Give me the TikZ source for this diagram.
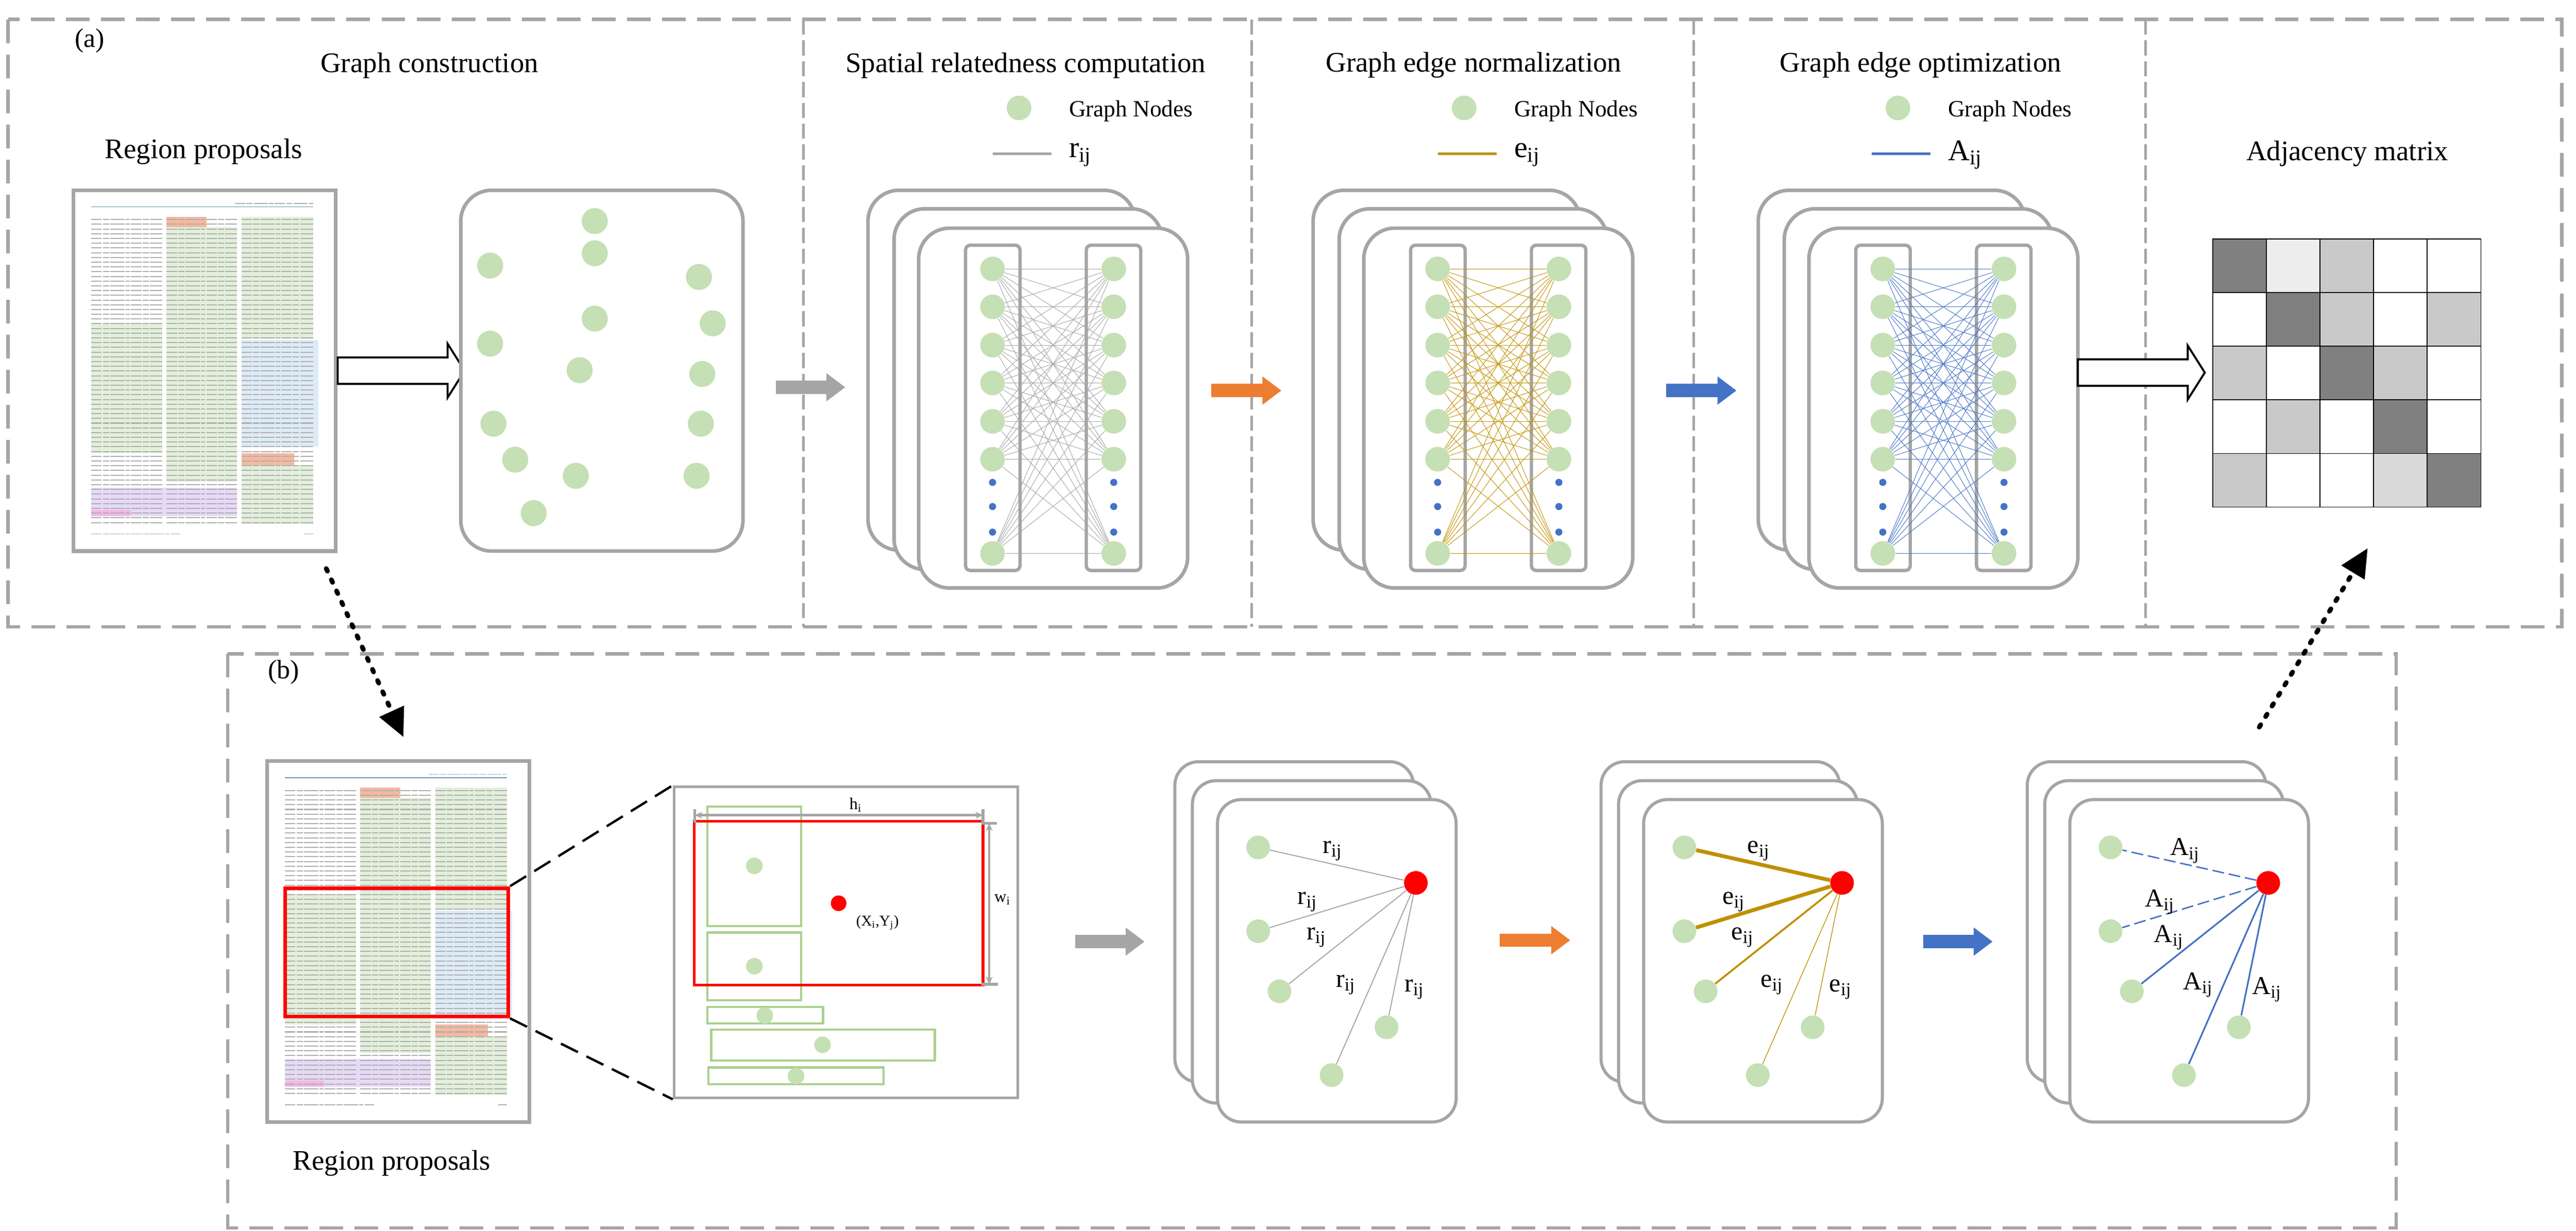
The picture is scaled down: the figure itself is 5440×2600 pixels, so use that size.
\documentclass[tikz,border=0pt]{standalone}
\usepackage{fontspec}
\setmainfont{Liberation Serif}
\usepackage{tikz}
\usetikzlibrary{calc,arrows.meta,positioning}

\definecolor{nodegreen}{HTML}{C5E0B4}
\definecolor{boxgreen}{HTML}{A9D18E}
\definecolor{framegray}{HTML}{A5A5A5}
\definecolor{arrorange}{HTML}{ED7D31}
\definecolor{arrblue}{HTML}{4472C4}
\definecolor{edgegold}{HTML}{BF9000}
\definecolor{celldark}{HTML}{808080}
\definecolor{cellmid}{HTML}{C9C9C9}
\definecolor{celllight}{HTML}{EDEDED}
\definecolor{cellpale}{HTML}{D9D9D9}
\definecolor{hlgreen}{HTML}{E2EFDA}
\definecolor{hlblue}{HTML}{DDEBF7}
\definecolor{hlred}{HTML}{F4B9A0}
\definecolor{hlpurple}{HTML}{E6DAF7}
\definecolor{hlpink}{HTML}{F2B8E6}
\definecolor{rulecol}{HTML}{6A9AB0}

\tikzset{
  panelline/.style={draw=framegray, line width=2pt, dash pattern=on 0.5cm off 0.24cm},
  sepline/.style={draw=framegray, line width=1.6pt, dash pattern=on 0.32cm off 0.12cm},
  ttl/.style={font=\fontsize{17}{20}\selectfont, inner sep=0},
  tagl/.style={font=\fontsize{16}{19}\selectfont, inner sep=0},
  legtext/.style={font=\fontsize{14}{17}\selectfont, anchor=west, inner sep=0},
  legsym/.style={font=\fontsize{18}{21}\selectfont, anchor=west, inner sep=0},
  elabel/.style={font=\fontsize{15.5}{18}\selectfont, inner sep=0},
  smalllab/.style={font=\fontsize{10}{12}\selectfont, inner sep=0},
  gnode/.style={circle, fill=nodegreen, inner sep=0, minimum size=0.52cm},
  rnode/.style={circle, fill=red, inner sep=0, minimum size=0.5cm},
  page/.style={draw=framegray, line width=0.08cm, fill=white, inner sep=0,
    minimum width=5.54cm, minimum height=7.62cm},
  textline/.style={black!32, line width=0.022cm,
    dash pattern=on 0.22cm off 0.025cm on 0.13cm off 0.025cm on 0.3cm off 0.025cm on 0.09cm off 0.025cm},
  card/.style={draw=framegray, line width=0.075cm, fill=white, rounded corners=0.65cm},
  cardb/.style={draw=framegray, line width=0.065cm, fill=white, rounded corners=0.5cm},
  colbox/.style={draw=framegray, line width=0.07cm, rounded corners=0.1cm},
  hollow/.style={draw=black, line width=1.2pt, fill=white},
  flow/.style={line width=0.28cm, -{Triangle[length=0.4cm,width=0.57cm]}},
  jump/.style={line width=0.1cm, line cap=round, dash pattern=on 0.06cm off 0.2cm,
    -{Triangle[length=0.6cm,width=0.55cm]}},
  zoomline/.style={black, line width=1.4pt, dash pattern=on 0.4cm off 0.2cm},
  gbox/.style={draw=boxgreen, line width=0.05cm},
  dimarrow/.style={framegray, line width=0.05cm,
    {Stealth[length=0.16cm,width=0.14cm]}-{Stealth[length=0.16cm,width=0.14cm]}},
  dimtick/.style={framegray, line width=0.06cm},
  redge/.style={framegray, line width=0.6pt},
  ethick/.style={edgegold, line width=0.08cm},
  emid/.style={edgegold, line width=0.04cm},
  ethin/.style={edgegold, line width=0.015cm},
  adash/.style={arrblue, line width=0.03cm, dash pattern=on 0.25cm off 0.1cm},
  aline/.style={arrblue, line width=0.035cm},
}

% a page of the paper, drawn from its top left corner
\newcommand\docpage[1]{%
  \begin{scope}[shift={#1}]
    \fill[hlgreen] (42,285) rectangle (192,560);
    \fill[hlgreen] (201,82) rectangle (350,620);
    \fill[hlred] (201,60) rectangle (285,82);
    \fill[hlgreen] (359,60) rectangle (511,318);
    \fill[hlblue] (359,320) rectangle (522,545);
    \fill[hlred] (359,560) rectangle (470,585);
    \fill[hlgreen] (359,585) rectangle (511,709);
    \fill[hlpurple] (42,633) rectangle (350,692);
    \fill[hlpink] (42,679) rectangle (125,692);
    \draw[rulecol, line width=0.5pt] (42,39) -- (511,39);
    \draw[textline, line width=0.4pt] (345,32) -- (511,32);
    \foreach \y in {66,76,...,706} {
      \draw[textline] (42,\y) -- (192,\y);
      \draw[textline] (201,\y) -- (350,\y);
      \draw[textline] (359,\y) -- (511,\y);
    }
    \draw[textline, line width=0.4pt] (42,730) -- (230,730);
    \draw[textline, line width=0.4pt] (492,730) -- (511,730);
  \end{scope}}

\newcommand\hollowarrow[1]{%
  \draw[hollow] ($#1+(0,-28)$) -- ++(232,0) -- ++(0,-29) -- ++(36,57)
    -- ++(-36,57) -- ++(0,-29) -- ++(-232,0) -- cycle;}

\begin{document}
\begin{tikzpicture}[x=0.01cm, y=-0.01cm]
\useasboundingbox (0,0) rectangle (5440,2600);
\fill[white] (0,0) rectangle (5440,2600);

% ---------------- (a) ----------------
\draw[panelline] (17,41) rectangle (5410,1324);
\foreach \x in {1697,2643,3577,4531}
  \draw[sepline] (\x,41) -- (\x,1324);
\node[tagl] (taga) at (189,86) {(a)};

% graph construction
\node[ttl] (tconst) at (907,138) {Graph construction};
\node[ttl] (tregiona) at (430,320) {Region proposals};
\node[page] (doca) at (432,783) {};
\docpage{(doca.north west)}
\hollowarrow{(doca.east)}
\draw[card] (973,402) rectangle (1569,1164);
\foreach \x/\y [count=\n] in {1256/467,1256/535,1035/561,1476/585,1256/673,1505/683,
    1035/726,1224/782,1483/790,1042/895,1480/895,1088/971,1216/1005,1471/1005,1127/1084}
  \node[gnode, minimum size=0.55cm] (c\n) at (\x,\y) {};

% flow arrows between the stages
\coordinate (ga1) at (1638,818);  \coordinate (ga2) at (1785,818);
\coordinate (oa1) at (2558,825);  \coordinate (oa2) at (2706,825);
\coordinate (ba1) at (3518,825);  \coordinate (ba2) at (3667,825);
\draw[flow, framegray] (ga1) -- (ga2);
\draw[flow, arrorange] (oa1) -- (oa2);
\draw[flow, arrblue] (ba1) -- (ba2);

% the three bipartite stages
\foreach \k/\ecol/\sym/\ttltext/\tx/\dx in {0/framegray/r/Spatial relatedness computation/0/0,
    1/edgegold/e/Graph edge normalization/6/0, 2/arrblue/A/Graph edge optimization/10/-24} {
  \begin{scope}[shift={(\k*940,0)}]
    \node[ttl] (ttl\k) at (2166+\tx,138) {\ttltext};
    \node[gnode] (ldot\k) at (2152+\dx,228) {};
    \node[legtext] (lnodes\k) at (2257+\dx,235) {Graph Nodes};
    \coordinate (lla\k) at (2097+\dx,325);
    \coordinate (llb\k) at (2221+\dx,325);
    \draw[\ecol, line width=0.05cm] (lla\k) -- (llb\k);
    \node[legsym] (lsym\k) at (2257+\dx,327) {\sym\textsubscript{ij}};
    \draw[card] (1833,402) rectangle (2397,1162);
    \draw[card] (1888,441) rectangle (2454,1203);
    \draw[card] (1940,482) rectangle (2508,1242);
    \draw[colbox] (2039,518) rectangle (2154,1205);
    \draw[colbox] (2294,518) rectangle (2409,1205);
    \foreach \i/\y in {1/568,2/648,3/729,4/809,5/890,6/970,7/1169} {
      \node[gnode] (l\k\i) at (2096,\y) {};
      \node[gnode] (r\k\i) at (2352,\y) {};
    }
    \foreach \y in {1019,1070,1124} {
      \fill[arrblue] (2096,\y) circle (0.075cm);
      \fill[arrblue] (2352,\y) circle (0.075cm);
    }
    \foreach \i in {1,...,7}
      \foreach \j in {1,...,7}
        \draw[\ecol, line width=0.3pt] (l\k\i) -- (r\k\j);
  \end{scope}
}

% adjacency matrix
\hollowarrow{(4388,787)}
\node[ttl] (tadj) at (4957,325) {Adjacency matrix};
\foreach \row [count=\i] in {{celldark,celllight,cellmid,white,white},
    {white,celldark,cellmid,white,cellmid},{cellmid,white,celldark,cellmid,white},
    {white,cellmid,white,celldark,white},{cellmid,white,white,cellpale,celldark}}
  \foreach \cc [count=\j] in \row
    \draw[black, line width=0.5pt, fill=\cc]
      ({4673+113.2*(\j-1)},{505+113.2*(\i-1)}) rectangle ++(113.2,113.2);

% ---------------- (b) ----------------
\draw[panelline] (481,1381) rectangle (5060,2594);
\node[tagl] (tagb) at (599,1420) {(b)};
\node[ttl] (tregionb) at (827,2457) {Region proposals};
\node[page] (docb) at (841,1989) {};
\docpage{(docb.north west)}
\node[draw=red, line width=0.08cm, inner sep=0, minimum width=4.71cm,
  minimum height=2.71cm] (roi) at (837.5,2011.5) {};

% dotted jumps between (a) and (b)
\coordinate (jA1) at (689,1201);  \coordinate (jA2) at (852,1557);
\coordinate (jB1) at (4771,1536); \coordinate (jB2) at (5000,1158);
\draw[jump] (jA1) -- (jA2);
\draw[jump] (jB1) -- (jB2);

% zoomed region
\node[draw=framegray, line width=0.06cm, inner sep=0, minimum width=7.25cm,
  minimum height=6.57cm] (zoombox) at (1786.5,1990.5) {};
\draw[zoomline] (roi.north east) -- (zoombox.north west);
\draw[zoomline] (roi.south east) -- (zoombox.south west);
\draw[gbox] (1494,1704) rectangle (1692,1956);
\draw[gbox] (1494,1970) rectangle (1692,2113);
\draw[gbox] (1494,2127) rectangle (1738,2162);
\draw[gbox] (1502,2175) rectangle (1974,2240);
\draw[gbox] (1496,2255) rectangle (1866,2290);
\foreach \x/\y [count=\n] in {1593/1829,1593/2041,1615/2145,1737/2207,1681/2273}
  \node[gnode, minimum size=0.35cm] (z\n) at (\x,\y) {};
\draw[red, line width=0.06cm] (1466,1735) rectangle (2076,2081);
\node[rnode, minimum size=0.33cm] (zc) at (1771,1908) {};
\node[smalllab, font=\fontsize{9}{11}\selectfont] (zclab) at (1853,1949)
  {(X\textsubscript{i},Y\textsubscript{j})};
\coordinate (hA) at (1467,1722); \coordinate (hB) at (2076,1722);
\draw[dimarrow] (hA) -- (hB);
\draw[dimtick] (1467,1709) -- (1467,1738);
\draw[dimtick] (2076,1709) -- (2076,1738);
\node[smalllab] (hlab) at (1807,1700) {h\textsubscript{i}};
\coordinate (wA) at (2089,1739); \coordinate (wB) at (2089,2079);
\draw[dimarrow] (wA) -- (wB);
\draw[dimtick] (2073,1739) -- (2105,1739);
\draw[dimtick] (2073,2079) -- (2107,2079);
\node[smalllab] (wlab) at (2117,1900) {w\textsubscript{i}};

% flow arrows of (b)
\coordinate (gb1) at (2271,1989);  \coordinate (gb2) at (2417,1989);
\coordinate (ob1) at (3167,1986);  \coordinate (ob2) at (3316,1986);
\coordinate (bb1) at (4061,1989);  \coordinate (bb2) at (4208,1989);
\draw[flow, framegray] (gb1) -- (gb2);
\draw[flow, arrorange] (ob1) -- (ob2);
\draw[flow, arrblue] (bb1) -- (bb2);

% the three star graphs
\foreach \k/\sym/\sa/\sb/\sc in {0/r/redge/redge/redge, 1/e/ethick/emid/ethin, 2/A/adash/aline/aline} {
  \begin{scope}[shift={(\k*900,0)}]
    \draw[cardb] (2481,1609) rectangle (2985,2286);
    \draw[cardb] (2518,1649) rectangle (3022,2330);
    \draw[cardb] (2571,1689) rectangle (3075,2370);
    \node[rnode] (hub\k) at (2990,1865) {};
    \node[gnode, minimum size=0.5cm] (p\k1) at (2657,1790) {};
    \node[gnode, minimum size=0.5cm] (p\k2) at (2657,1967) {};
    \node[gnode, minimum size=0.5cm] (p\k3) at (2702,2094) {};
    \node[gnode, minimum size=0.5cm] (p\k4) at (2928,2170) {};
    \node[gnode, minimum size=0.5cm] (p\k5) at (2812,2271) {};
    \draw[\sa] (hub\k) -- (p\k1);
    \draw[\sa] (hub\k) -- (p\k2);
    \draw[\sb] (hub\k) -- (p\k3);
    \draw[\sc] (hub\k) -- (p\k4);
    \draw[\sc] (hub\k) -- (p\k5);
    \node[elabel] (lab\k1) at (2814,1797) {\sym\textsubscript{ij}};
    \node[elabel] (lab\k2) at (2761,1905) {\sym\textsubscript{ij}};
    \node[elabel] (lab\k3) at (2780,1980) {\sym\textsubscript{ij}};
    \node[elabel] (lab\k4) at (2842,2080) {\sym\textsubscript{ij}};
    \node[elabel] (lab\k5) at (2987,2090) {\sym\textsubscript{ij}};
  \end{scope}
}
\end{tikzpicture}
\end{document}
